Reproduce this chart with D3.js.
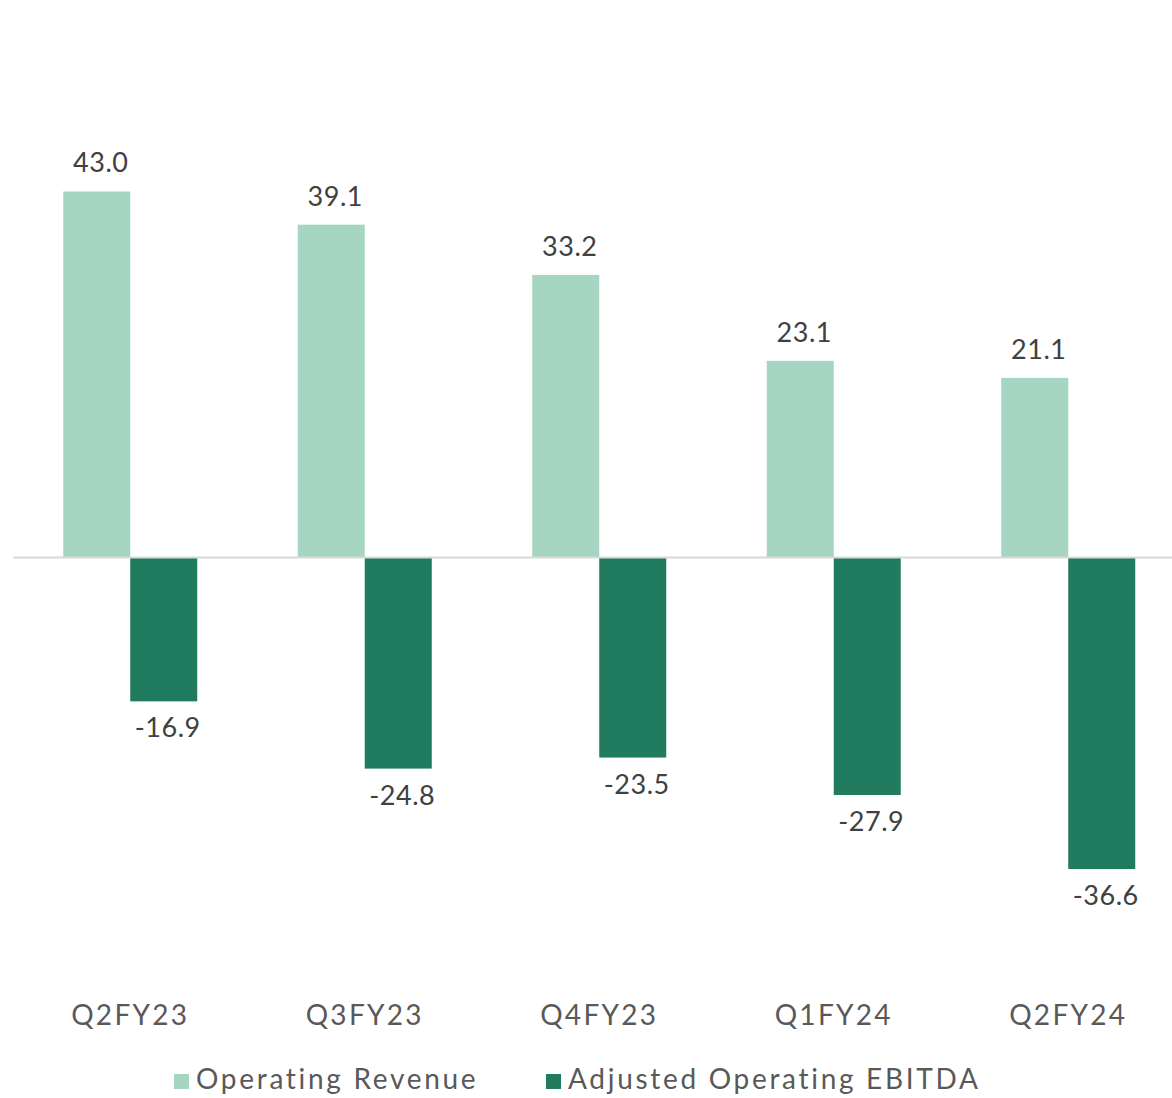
<!DOCTYPE html>
<html>
<head>
<meta charset="utf-8">
<script src="https://cdn.jsdelivr.net/npm/d3@7"></script>
<style>
  html, body { margin: 0; padding: 0; background: #ffffff; }
  svg { display: block; }
  text { font-family: Lato, "Open Sans", sans-serif; }
</style>
</head>
<body>
<svg id="chart" width="1172" height="1098"></svg>
<script>
// Quarterly figures
const categories = ["Q2FY23", "Q3FY23", "Q4FY23", "Q1FY24", "Q2FY24"];
const seriesNames = ["Operating Revenue", "Adjusted Operating EBITDA"];
const operatingRevenue = [43.0, 39.1, 33.2, 23.1, 21.1];
const adjustedEbitda = [-16.9, -24.8, -23.5, -27.9, -36.6];
const seriesColors = ["#a6d6c1", "#217b5e"];

const rows = categories.map((c, i) => ({
  category: c,
  values: [
    { series: seriesNames[0], value: operatingRevenue[i] },
    { series: seriesNames[1], value: adjustedEbitda[i] }
  ]
}));

const svg = d3.select("#chart");

const x0 = d3.scaleBand()
  .domain(categories)
  .range([13, 1185.5])
  .paddingInner(0)
  .paddingOuter(0);

const groupInner = 134;
const x1 = d3.scaleBand()
  .domain(seriesNames)
  .range([0, groupInner])
  .padding(0);

const y = d3.scaleLinear()
  .domain([-50, 50])
  .range([557.5 + 425.6, 557.5 - 425.6]);

const color = d3.scaleOrdinal().domain(seriesNames).range(seriesColors);

const groups = svg.append("g")
  .selectAll("g")
  .data(rows)
  .join("g")
  .attr("transform", d => `translate(${x0(d.category) + x0.bandwidth() / 2 - groupInner / 2},0)`);

groups.selectAll("rect")
  .data(d => d.values)
  .join("rect")
  .attr("x", d => x1(d.series))
  .attr("width", x1.bandwidth())
  .attr("y", d => Math.min(y(d.value), y(0)))
  .attr("height", d => Math.abs(y(d.value) - y(0)))
  .attr("fill", d => color(d.series));

// value labels
groups.selectAll("text.value")
  .data(d => d.values)
  .join("text")
  .attr("class", "value")
  .attr("x", d => x1(d.series) + x1.bandwidth() / 2 + 4)
  .attr("y", d => d.value >= 0 ? y(d.value) - 19 : y(d.value) + 36)
  .attr("text-anchor", "middle")
  .attr("fill", "#404040")
  .attr("font-size", 27)
  .attr("letter-spacing", 0.5)
  .text(d => d3.format(".1f")(d.value).replace("−", "-"));

// zero baseline
svg.append("line")
  .attr("x1", 13)
  .attr("x2", 1172)
  .attr("y1", y(0))
  .attr("y2", y(0))
  .attr("stroke", "#d9d9d9")
  .attr("stroke-width", 2);

// category axis
const xAxis = svg.append("g")
  .attr("transform", "translate(0,1025)")
  .call(d3.axisBottom(x0).tickSize(0).tickPadding(0));
xAxis.select(".domain").remove();
xAxis.selectAll("text")
  .attr("dy", 0)
  .attr("fill", "#595959")
  .attr("font-size", 28)
  .attr("letter-spacing", 2.3)
  .style("font-family", "Lato, 'Open Sans', sans-serif");

// legend
const legendX = [174, 546];
const legend = svg.append("g")
  .selectAll("g")
  .data(seriesNames)
  .join("g")
  .attr("transform", (d, i) => `translate(${legendX[i]},1074)`);

legend.append("rect")
  .attr("width", 15)
  .attr("height", 15)
  .attr("fill", d => color(d));

legend.append("text")
  .attr("x", 22)
  .attr("y", 15)
  .attr("fill", "#595959")
  .attr("font-size", 28)
  .attr("letter-spacing", 2.7)
  .text(d => d);
</script>
</body>
</html>
